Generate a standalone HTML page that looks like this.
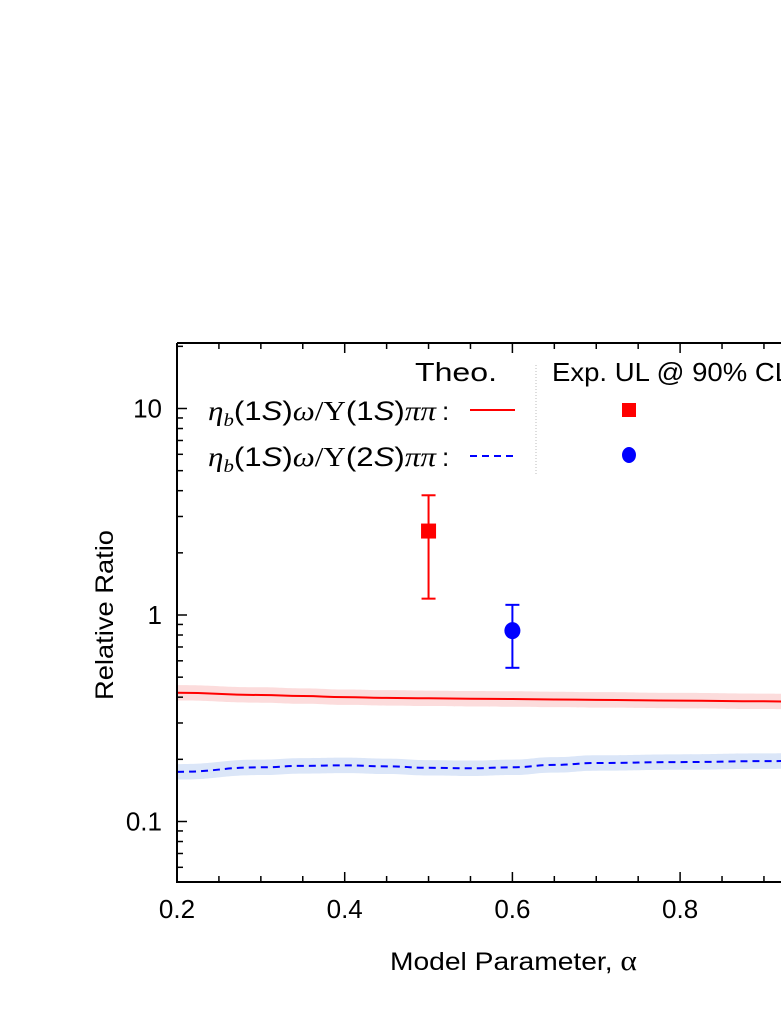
<!DOCTYPE html>
<html><head><meta charset="utf-8"><style>
html,body{margin:0;padding:0;background:#fff;}
svg{display:block;font-family:"Liberation Sans",sans-serif;}
</style></head><body>
<svg id="chart" width="781" height="1010" viewBox="0 0 781 1010">
<defs><clipPath id="pc"><rect x="177" y="343" width="700" height="539"/></clipPath></defs>
<g id="bands" clip-path="url(#pc)"></g>
<g id="lines" clip-path="url(#pc)"></g>
<g id="axes"></g>
<g id="points"></g>
<g font-size="26">
<text x="415" y="381" textLength="82" lengthAdjust="spacingAndGlyphs">Theo.</text>
<line x1="536" y1="365" x2="536" y2="474" stroke="#bbb" stroke-dasharray="1,2"/>
<text x="552" y="381" textLength="238" lengthAdjust="spacingAndGlyphs">Exp. UL @ 90% CL</text>
<text x="208" y="420" textLength="228" lengthAdjust="spacingAndGlyphs" font-family="Liberation Serif,serif" font-size="27"><tspan font-style="italic">η</tspan><tspan font-style="italic" font-size="18" dy="6">b</tspan><tspan dy="-6" font-family="Liberation Sans,sans-serif">(1</tspan><tspan font-style="italic" font-family="Liberation Sans,sans-serif">S</tspan><tspan font-family="Liberation Sans,sans-serif">)</tspan><tspan font-style="italic">ω</tspan>/Υ<tspan font-family="Liberation Sans,sans-serif">(1</tspan><tspan font-style="italic" font-family="Liberation Sans,sans-serif">S</tspan><tspan font-family="Liberation Sans,sans-serif">)</tspan><tspan font-style="italic">ππ</tspan></text>
<text x="442" y="420" font-size="26">:</text>
<line x1="470" y1="410" x2="515" y2="410" stroke="#f00" stroke-width="2"/>
<rect x="622" y="403" width="14" height="14" fill="#f00"/>
<text x="208" y="466" textLength="228" lengthAdjust="spacingAndGlyphs" font-family="Liberation Serif,serif" font-size="27"><tspan font-style="italic">η</tspan><tspan font-style="italic" font-size="18" dy="6">b</tspan><tspan dy="-6" font-family="Liberation Sans,sans-serif">(1</tspan><tspan font-style="italic" font-family="Liberation Sans,sans-serif">S</tspan><tspan font-family="Liberation Sans,sans-serif">)</tspan><tspan font-style="italic">ω</tspan>/Υ<tspan font-family="Liberation Sans,sans-serif">(2</tspan><tspan font-style="italic" font-family="Liberation Sans,sans-serif">S</tspan><tspan font-family="Liberation Sans,sans-serif">)</tspan><tspan font-style="italic">ππ</tspan></text>
<text x="442" y="466" font-size="26">:</text>
<line x1="470" y1="456" x2="515" y2="456" stroke="#00f" stroke-width="2" stroke-dasharray="7,5"/>
<ellipse cx="629" cy="455" rx="7" ry="8" fill="#00f"/>
</g>
<text x="390" y="970" textLength="247" lengthAdjust="spacingAndGlyphs" font-size="25">Model Parameter,  <tspan font-family="Liberation Serif,serif" font-size="28">α</tspan></text>
<text transform="translate(113,615) rotate(-90)" text-anchor="middle" textLength="170" lengthAdjust="spacingAndGlyphs" font-size="25">Relative Ratio</text>
</svg>
<script>
const alphaGrid=[0.2,0.3,0.35,0.4,0.45,0.5,0.55,0.6,0.65,0.7,0.8,0.9,0.95];
const ratio1S=[0.42,0.41,0.405,0.40,0.397,0.395,0.393,0.392,0.39,0.388,0.385,0.382,0.38];
const ratio2S=[0.174,0.183,0.186,0.187,0.185,0.182,0.181,0.183,0.188,0.192,0.194,0.196,0.197];
const bandFrac1S=0.09;
const bandFrac2S=0.09;
const expAlpha=[0.5,0.6];
const expVal=[2.55,0.84];
const expHi=[3.8,1.12];
const expLo=[1.2,0.555];
const expColor=['#f00','#00f'];
const xTicks=[0.2,0.4,0.6,0.8];
const xTickLabels=['0.2','0.4','0.6','0.8'];
const yTicks=[0.1,1,10];
const yTickLabels=['0.1','1','10'];

const X0=177,Y0=343,Y1=882;
const xs=a=>177+(a-0.2)*838.5;
const ys=v=>615-Math.log10(v)*206.5;
const NS='http://www.w3.org/2000/svg';
function mk(tag,attrs,parent){const e=document.createElementNS(NS,tag);for(const k in attrs)e.setAttribute(k,attrs[k]);parent.appendChild(e);return e;}
const bands=document.getElementById('bands'),lines=document.getElementById('lines'),axes=document.getElementById('axes'),pts=document.getElementById('points');
function smooth(p){let d='M'+p[0][0]+','+p[0][1];for(let i=1;i<p.length;i++){const a=p[i-1],b=p[i];const mx=(a[0]+b[0])/2;d+=' C'+mx+','+a[1]+' '+mx+','+b[1]+' '+b[0]+','+b[1];}return d;}
function series(vals,frac,col,fill,dash,name){
  const up=alphaGrid.map((a,i)=>[xs(a),ys(vals[i]*(1+frac))]);
  const lo=alphaGrid.map((a,i)=>[xs(a),ys(vals[i]/(1+frac))]).reverse();
  let d=smooth(up)+' L'+smooth(lo).slice(1)+' Z';
  const b=mk('path',{d:d,fill:fill,stroke:'none'},bands);
  
  
  const l=mk('path',{d:smooth(alphaGrid.map((a,i)=>[xs(a),ys(vals[i])])),fill:'none',stroke:col,'stroke-width':2,'stroke-dasharray':dash},lines);
  
  
}
series(ratio1S,bandFrac1S,'#f00','#fcdcdc','none','theory-1s');
series(ratio2S,bandFrac2S,'#00f','#dbe6f8','7,5','theory-2s');
const fr=mk('path',{d:`M${X0},${Y0} L800,${Y0} M${X0},${Y0} L${X0},${Y1} L800,${Y1}`,stroke:'#000','stroke-width':2,fill:'none'},axes);


for(let a=0.2;a<=0.96;a+=0.05){const x=xs(a);const maj=Math.abs(Math.round(a*10)/10-a)<1e-6&&Math.round(a*10)%2===0;const len=maj?10:6;
  mk('line',{x1:x,y1:Y1,x2:x,y2:Y1-len,stroke:'#000','stroke-width':1.5},axes);
  mk('line',{x1:x,y1:Y0,x2:x,y2:Y0+len,stroke:'#000','stroke-width':1.5},axes);}
xTicks.forEach((t,i)=>{const tx=mk('text',{x:xs(t),y:918,'text-anchor':'middle','font-size':26},axes);tx.textContent=xTickLabels[i];
  
  });
for(let e=-2;e<=1;e++){for(let m=1;m<=9;m++){const v=m*Math.pow(10,e);const y=ys(v);if(y<Y0||y>Y1)continue;const len=m===1?10:6;
  mk('line',{x1:X0,y1:y,x2:X0+len,y2:y,stroke:'#000','stroke-width':1.5},axes);}}
yTicks.forEach((t,i)=>{const tx=mk('text',{x:162,y:ys(t)+9,'text-anchor':'end','font-size':26},axes);tx.textContent=yTickLabels[i];
  
  });
expAlpha.forEach((a,i)=>{const x=xs(a),c=expColor[i];
  const g=mk('g',{},pts);
  
  
  mk('line',{x1:x,y1:ys(expHi[i]),x2:x,y2:ys(expLo[i]),stroke:c,'stroke-width':2},g);
  mk('line',{x1:x-7,y1:ys(expHi[i]),x2:x+7,y2:ys(expHi[i]),stroke:c,'stroke-width':2},g);
  mk('line',{x1:x-7,y1:ys(expLo[i]),x2:x+7,y2:ys(expLo[i]),stroke:c,'stroke-width':2},g);
  if(i===0)mk('rect',{x:x-7.5,y:ys(expVal[i])-7.5,width:15,height:15,fill:c},g);
  else mk('ellipse',{cx:x,cy:ys(expVal[i]),rx:8,ry:8.5,fill:c},g);});
</script>
</body></html>
